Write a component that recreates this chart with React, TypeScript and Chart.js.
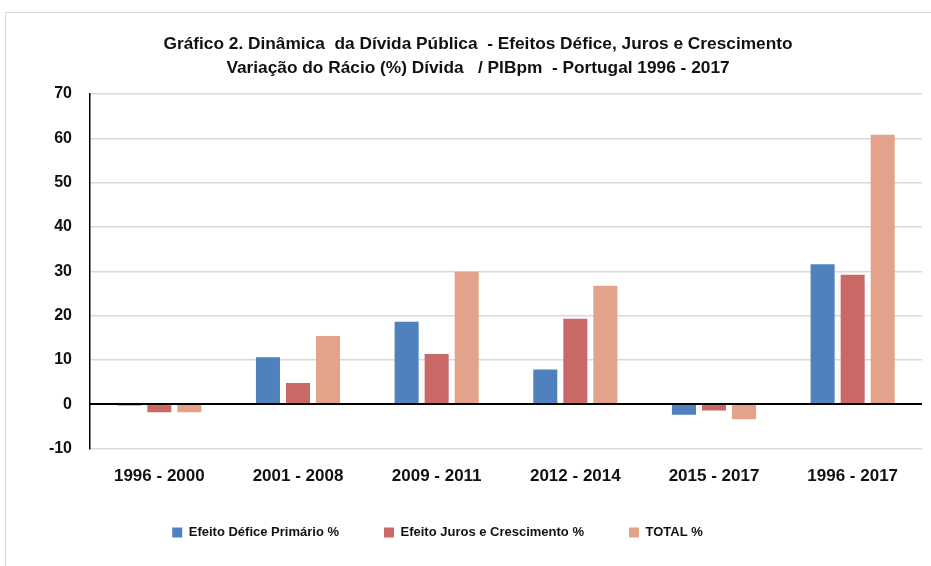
import React, { useEffect, useRef } from "react";
import { Chart, registerables } from "chart.js";

Chart.register(...registerables);

const categories = ["1996 - 2000", "2001 - 2008", "2009 - 2011", "2012 - 2014", "2015 - 2017", "1996 - 2017"];
const deficePrimario = [-0.3, 10.6, 18.6, 7.8, -2.4, 31.6];
const jurosCrescimento = [-1.8, 4.8, 11.3, 19.3, -1.4, 29.2];
const total = [-1.8, 15.4, 29.9, 26.7, -3.4, 60.8];
const titleLines = [
  "Gráfico 2. Dinâmica  da Dívida Pública  - Efeitos Défice, Juros e Crescimento",
  "Variação do Rácio (%) Dívida   / PIBpm  - Portugal 1996 - 2017",
];
const seriesNames = ["Efeito Défice Primário %", "Efeito Juros e Crescimento %", "TOTAL %"];

const FONT = "'Liberation Sans', Arial, sans-serif";

const zeroLinePlugin = {
  id: "zeroLine",
  afterLayout(chart: any) {
    if (chart.titleBlock) chart.titleBlock.left += 26;
    if (chart.legend) chart.legend.right = 867;
  },
  afterDatasetsDraw(chart: any) {
    const { ctx, chartArea, scales } = chart;
    const y = Math.round(scales.y.getPixelForValue(0));
    ctx.save();
    ctx.strokeStyle = "#000";
    ctx.lineWidth = 2;
    ctx.beginPath();
    ctx.moveTo(chartArea.left, y);
    ctx.lineTo(chartArea.right, y);
    ctx.stroke();
    ctx.restore();
  },
};

export default function App() {
  const ref = useRef<HTMLCanvasElement>(null);
  useEffect(() => {
    if (!ref.current) return;
    const chart = new Chart(ref.current, {
      type: "bar",
      data: {
        labels: categories,
        datasets: [
          { label: seriesNames[0], data: deficePrimario, backgroundColor: "#4F81BD" },
          { label: seriesNames[1], data: jurosCrescimento, backgroundColor: "#C96966" },
          { label: seriesNames[2], data: total, backgroundColor: "#E3A38A" },
        ],
      },
      options: {
        animation: false,
        responsive: false,
        maintainAspectRatio: false,
        layout: { padding: { left: 8, right: 9, top: 0, bottom: 17 } },
        datasets: { bar: { categoryPercentage: 0.65, barPercentage: 0.8 } },
        plugins: {
          tooltip: { enabled: false },
          title: {
            display: true,
            text: titleLines,
            color: "#111",
            font: { family: FONT, size: 17.3, weight: "bold", lineHeight: 24 / 17.3 },
            padding: { top: 32, bottom: 14 },
          },
          legend: {
            position: "bottom",
            labels: {
              color: "#111",
              font: { family: FONT, size: 13, weight: "bold" },
              boxWidth: 10,
              boxHeight: 10,
              padding: 45,
            },
          },
        },
        scales: {
          x: {
            afterFit: (scale: any) => {
              scale.height = 32.5;
            },
            grid: { display: false },
            border: { display: false },
            ticks: { color: "#111", font: { family: FONT, size: 17, weight: "bold" }, padding: 10 },
          },
          y: {
            min: -10,
            max: 70,
            afterFit: (scale: any) => {
              scale.width = 82;
            },
            ticks: { stepSize: 10, color: "#111", font: { family: FONT, size: 16, weight: "bold" }, padding: 18 },
            grid: {
              drawTicks: false,
              color: (c: any) => (c.tick && c.tick.value === 0 ? "#000" : "#D9D9D9"),
              lineWidth: 1.5,
            },
            border: { display: true, color: "#000", width: 1.5 },
          },
        },
      },
      plugins: [zeroLinePlugin],
    });
    return () => chart.destroy();
  }, []);
  return (
    <div style={{ position: "fixed", left: 0, top: 0, width: 931, height: 566, background: "#fff" }}>
      <div
        style={{
          position: "absolute",
          left: 5,
          top: 12,
          width: 940,
          height: 570,
          borderLeft: "1px solid #D9D9D9",
          borderTop: "1px solid #D9D9D9",
        }}
      />
      <canvas ref={ref} width={931} height={566} style={{ position: "absolute", left: 0, top: 0 }} />
    </div>
  );
}
